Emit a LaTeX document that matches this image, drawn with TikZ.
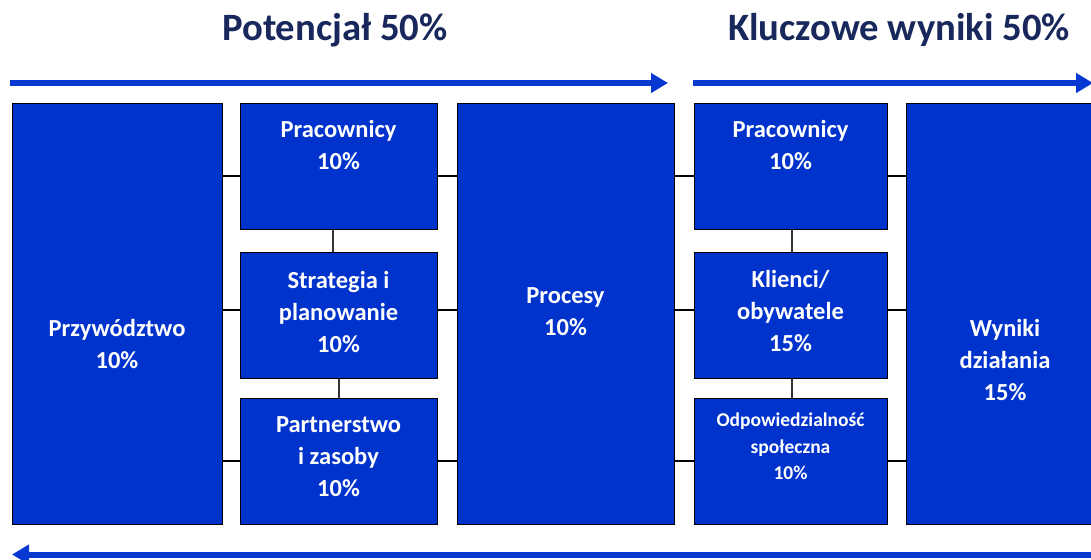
\documentclass[tikz,border=0pt]{standalone}
\usepackage{fontspec}
\setmainfont{Carlito}
\usetikzlibrary{arrows.meta}
\definecolor{boxblue}{RGB}{0,51,204}
\definecolor{arrowblue}{RGB}{8,56,210}
\definecolor{titlenavy}{RGB}{24,40,92}
\begin{document}
\begin{tikzpicture}[x=1pt,y=-1pt,
 box/.style={draw=black, line width=1.3pt, fill=boxblue, inner sep=0pt, anchor=north west},
 lbl/.style={text=white, font=\bfseries\fontsize{24.5}{32}\selectfont, align=center, inner sep=0pt},
 lblsmall/.style={text=white, font=\bfseries\fontsize{19.5}{26.5}\selectfont, align=center, inner sep=0pt},
 hlink/.style={draw=black, line width=2pt},
 vlink/.style={draw=black!80, line width=1.5pt},
 flow/.style={draw=arrowblue, line width=6pt, -{Triangle[length=17pt,width=19pt]}},
 title/.style={text=titlenavy, font=\bfseries\fontsize{38.7}{46}\selectfont, inner sep=0pt}]
\useasboundingbox (0,0) rectangle (1091,559);
\clip (0,0) rectangle (1091,559);
\fill[white] (0,0) rectangle (1091,559);

% titles
\node[title] (t1) at (335,30) {Potencjał 50\%};
\node[title] (t2) at (899,30) {Kluczowe wyniki 50\%};

% flow arrows
\coordinate (p1s) at (10,83);
\coordinate (p1e) at (668,83);
\coordinate (p2s) at (693,83);
\coordinate (p2e) at (1093,83);
\coordinate (p3s) at (1100,554.5);
\coordinate (p3e) at (12,554.5);
\draw[flow] (p1s) -- (p1e);
\draw[flow] (p2s) -- (p2e);
\draw[flow] (p3s) -- (p3e);

% boxes
\node[box, minimum width=210pt, minimum height=421pt] (A) at (12,103) {};
\node[box, minimum width=197pt, minimum height=126pt] (B1) at (240,103) {};
\node[box, minimum width=197pt, minimum height=126pt] (B2) at (240,252) {};
\node[box, minimum width=197pt, minimum height=126pt] (B3) at (240,398) {};
\node[box, minimum width=217pt, minimum height=421pt] (C) at (457,103) {};
\node[box, minimum width=193pt, minimum height=126pt] (D1) at (694,103) {};
\node[box, minimum width=193pt, minimum height=126pt] (D2) at (694,252) {};
\node[box, minimum width=193pt, minimum height=126pt] (D3) at (694,398) {};
\node[box, minimum width=200pt, minimum height=421pt] (E) at (906,103) {};

% connectors
\draw[hlink] (A.east |- 0,176) -- (B1.west |- 0,176);
\draw[hlink] (A.east |- 0,310) -- (B2.west |- 0,310);
\draw[hlink] (A.east |- 0,461) -- (B3.west |- 0,461);
\draw[hlink] (B1.east |- 0,176) -- (C.west |- 0,176);
\draw[hlink] (B2.east |- 0,310) -- (C.west |- 0,310);
\draw[hlink] (B3.east |- 0,461) -- (C.west |- 0,461);
\draw[hlink] (C.east |- 0,176) -- (D1.west |- 0,176);
\draw[hlink] (C.east |- 0,310) -- (D2.west |- 0,310);
\draw[hlink] (C.east |- 0,461) -- (D3.west |- 0,461);
\draw[hlink] (D1.east |- 0,176) -- (E.west |- 0,176);
\draw[hlink] (D2.east |- 0,310) -- (E.west |- 0,310);
\draw[hlink] (D3.east |- 0,461) -- (E.west |- 0,461);
\draw[vlink] (B1.south -| 333,0) -- (B2.north -| 333,0);
\draw[vlink] (B2.south -| 339,0) -- (B3.north -| 339,0);
\draw[vlink] (D1.south -| 792,0) -- (D2.north -| 792,0);
\draw[vlink] (D2.south -| 792,0) -- (D3.north -| 792,0);

% labels
\node[lbl] (tA) at (117,344.5) {Przywództwo\\10\%};
\node[lbl] (tB1) at (338.5,145.5) {Pracownicy\\10\%};
\node[lbl] (tB2) at (338.5,312) {Strategia i\\planowanie\\10\%};
\node[lbl] (tB3) at (338.5,457) {Partnerstwo\\i zasoby\\10\%};
\node[lbl] (tC) at (565.5,311.5) {Procesy\\10\%};
\node[lbl] (tD1) at (790.5,145.5) {Pracownicy\\10\%};
\node[lbl] (tD2) at (790.5,311.5) {Klienci/\\obywatele\\15\%};
\node[lblsmall] (tD3) at (790.5,446.5) {Odpowiedzialność\\społeczna\\10\%};
\node[lbl] (tE) at (1005,360.5) {Wyniki\\działania\\15\%};
\end{tikzpicture}
\end{document}
